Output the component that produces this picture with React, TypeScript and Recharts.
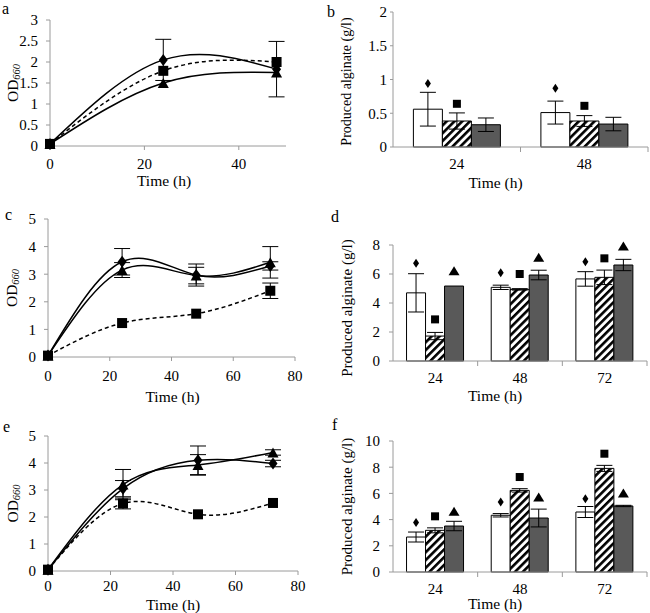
import React from 'react'
import { LineChart, Line, BarChart, Bar, XAxis, YAxis, ErrorBar, LabelList, Label } from 'recharts'

const FONT = 'Liberation Serif, Times New Roman, DejaVu Serif, serif'
const AXIS = '#9a9a9a'
const GREY = '#595959'

// ---- growth curves (OD660) ----
// a
const timeA = [0, 24, 48]
const diaA = [0.05, 2.05, 1.83]
const diaErrA = [0, 0.49, 0.66]
const triA = [0.05, 1.5, 1.75]
const triErrA = [0, 0, 0]
const sqA = [0.05, 1.79, 2.0]
const sqErrA = [0, 0, 0]
const xTicksA = [0, 20, 40]
const yTicksA = [0, 0.5, 1, 1.5, 2, 2.5, 3]

// c
const timeC = [0, 24, 48, 72]
const diaC = [0.05, 3.45, 2.97, 3.3]
const diaErrC = [0, 0.48, 0.4, 0.15]
const triC = [0.05, 3.15, 2.95, 3.43]
const triErrC = [0, 0.27, 0.3, 0.57]
const sqC = [0.05, 1.23, 1.57, 2.4]
const sqErrC = [0, 0, 0, 0.28]

// e
const timeE = [0, 24, 48, 72]
const diaE = [0.05, 3.05, 4.1, 3.98]
const diaErrE = [0, 0.3, 0.53, 0.12]
const triE = [0.05, 3.2, 3.93, 4.39]
const triErrE = [0, 0.56, 0.38, 0.1]
const sqE = [0.05, 2.5, 2.1, 2.52]
const sqErrE = [0, 0.2, 0, 0]
const xTicksCE = [0, 20, 40, 60, 80]
const yTicksCE = [0, 1, 2, 3, 4, 5]

// ---- alginate bars ----
// b
const catsB = ['24', '48']
const whiteB = [0.56, 0.51]
const whiteErrB = [0.25, 0.17]
const hatchB = [0.385, 0.385]
const hatchErrB = [0.12, 0.08]
const greyB = [0.33, 0.34]
const greyErrB = [0.1, 0.1]
const diaMarkB = [0.94, 0.87]
const sqMarkB = [0.64, 0.61]
const triMarkB = [null, null]
const yTicksB = [0, 0.5, 1, 1.5, 2]

// d
const catsD = ['24', '48', '72']
const whiteD = [4.7, 5.08, 5.66]
const whiteErrD = [1.32, 0.15, 0.5]
const hatchD = [1.72, 4.94, 5.77]
const hatchErrD = [0.25, 0.05, 0.5]
const greyD = [5.17, 5.93, 6.62]
const greyErrD = [0, 0.33, 0.39]
const diaMarkD = [6.74, 6.09, 6.85]
const sqMarkD = [2.87, 6.0, 7.08]
const triMarkD = [6.23, 7.15, 7.93]
const yTicksD = [0, 2, 4, 6, 8]

// f
const catsF = ['24', '48', '72']
const whiteF = [2.67, 4.33, 4.58]
const whiteErrF = [0.38, 0.13, 0.42]
const hatchF = [3.18, 6.23, 7.91]
const hatchErrF = [0.19, 0.13, 0.23]
const greyF = [3.51, 4.12, 5.04]
const greyErrF = [0.36, 0.68, 0.05]
const diaMarkF = [3.77, 5.34, 5.6]
const sqMarkF = [4.25, 7.25, 9.03]
const triMarkF = [4.63, 5.73, 6.03]
const yTicksF = [0, 2, 4, 6, 8, 10]

const lineRows = (t, dia, diaErr, tri, triErr, sq, sqErr) =>
  t.map((x, i) => ({ t: x, dia: dia[i], diaErr: diaErr[i], tri: tri[i], triErr: triErr[i], sq: sq[i], sqErr: sqErr[i] }))

const barRows = (cats, w, wE, h, hE, g, gE, dm, sm, tm) =>
  cats.map((c, i) => ({
    cat: c, white: w[i], whiteErr: wE[i], hatch: h[i], hatchErr: hE[i], grey: g[i], greyErr: gE[i],
    diaMark: dm[i], sqMark: sm[i], triMark: tm[i],
  }))

const diamond = (cx, cy, w, h) => (
  <polygon points={`${cx},${cy - h / 2} ${cx + w / 2},${cy} ${cx},${cy + h / 2} ${cx - w / 2},${cy}`} fill="#000" />
)
const square = (cx, cy, s) => <rect x={cx - s / 2} y={cy - s / 2} width={s} height={s} fill="#000" />
const triangle = (cx, cy, w, h) => (
  <polygon points={`${cx},${cy - h / 2} ${cx + w / 2},${cy + h / 2} ${cx - w / 2},${cy + h / 2}`} fill="#000" />
)

const dotOf = (shape) => (p) => <g key={`d-${p.index}`}>{shape(p.cx, p.cy)}</g>

const TICK_SIZE = 15
const TITLE_SIZE = 15.5
const tickStyle = { fill: '#000', fontSize: TICK_SIZE, fontFamily: FONT, style: { fontFamily: FONT } }

function LinePanel({ left, top, width, height, margin, rows, xMax, xTicks, yMax, yTicks, xTickMargin, titleDy, titleDx, labelX }) {
  return (
    <div style={{ position: 'absolute', left, top, width, height }}>
      <LineChart width={width} height={height} data={rows} margin={margin}>
        <XAxis
          dataKey="t" type="number" domain={[0, xMax]} ticks={xTicks} height={30} interval={0}
          stroke={AXIS} tickSize={4} tickMargin={xTickMargin} tick={tickStyle}
        >
          <Label content={({ viewBox }) => (
            <text x={viewBox.x + viewBox.width / 2 + titleDx} y={viewBox.y + titleDy} textAnchor="middle" style={{ fontFamily: FONT }} fontSize={TITLE_SIZE} fill="#000">Time (h)</text>
          )} />
        </XAxis>
        <YAxis
          type="number" domain={[0, yMax]} ticks={yTicks} width={margin.yw} interval={0}
          stroke={AXIS} tickSize={4} tickMargin={8} tick={tickStyle}
        >
          <Label content={({ viewBox }) => {
            const cy = viewBox.y + viewBox.height / 2
            return (
              <text x={labelX} y={cy} transform={`rotate(-90 ${labelX} ${cy})`} textAnchor="middle" dominantBaseline="central" style={{ fontFamily: FONT }} fontSize={15.5} fill="#000">
                <tspan>OD</tspan>
                <tspan fontSize={10.5} fontStyle="italic" dy={4}>660</tspan>
              </text>
            )
          }} />
        </YAxis>
        <Line dataKey="dia" type="natural" stroke="#000" strokeWidth={1.5} dot={dotOf((x, y) => diamond(x, y, 9, 12))} isAnimationActive={false}>
          <ErrorBar dataKey="diaErr" direction="y" width={8} stroke="#000" strokeWidth={1} />
        </Line>
        <Line dataKey="tri" type="natural" stroke="#000" strokeWidth={1.5} dot={dotOf((x, y) => triangle(x, y, 11, 10))} isAnimationActive={false}>
          <ErrorBar dataKey="triErr" direction="y" width={8} stroke="#000" strokeWidth={1} />
        </Line>
        <Line dataKey="sq" type="natural" stroke="#000" strokeWidth={1.5} strokeDasharray="4 3" dot={dotOf((x, y) => square(x, y, 10))} isAnimationActive={false}>
          <ErrorBar dataKey="sqErr" direction="y" width={8} stroke="#000" strokeWidth={1} />
        </Line>
      </LineChart>
    </div>
  )
}

// marker drawn above a bar, height taken from the bar's own pixel scale
const markerOf = (rows, barKey, shape) => (p) => {
  const vb = p.viewBox || p
  const m = p.value
  const row = rows[p.index]
  if (m == null || !row) return null
  const v = row[barKey]
  const bottom = vb.y + vb.height
  const cy = bottom - (m / v) * vb.height
  return <g key={`m-${barKey}-${p.index}`}>{shape(vb.x + vb.width / 2, cy)}</g>
}

function BarPanel({ left, top, width, height, margin, rows, yMax, yTicks, yTickSize, yTickMargin, labelX, labelSize, labelDy, titleDy, hatchId }) {
  const plotW = width - margin.left - margin.right - margin.yw
  const bw = plotW / rows.length
  const axisY = height - margin.bottom - 30
  const tick = (p) => (
    <g>
      <line x1={p.x + bw / 2} x2={p.x + bw / 2} y1={axisY} y2={axisY + 5} stroke={AXIS} />
      <text x={p.x} y={axisY + 22} textAnchor="middle" style={{ fontFamily: FONT }} fontSize={TICK_SIZE} fill="#000">{p.payload.value}</text>
    </g>
  )
  return (
    <div style={{ position: 'absolute', left, top, width, height }}>
      <BarChart width={width} height={height} data={rows} margin={margin} barCategoryGap="16%" barGap={0}>
        <XAxis dataKey="cat" height={30} stroke={AXIS} tickLine={false} tick={tick} interval={0}>
          <Label content={({ viewBox }) => (
            <text x={viewBox.x + viewBox.width / 2 - 25} y={axisY + titleDy} textAnchor="middle" style={{ fontFamily: FONT }} fontSize={TITLE_SIZE} fill="#000">Time (h)</text>
          )} />
        </XAxis>
        <YAxis
          type="number" domain={[0, yMax]} ticks={yTicks} width={margin.yw} interval={0}
          stroke={AXIS} tickSize={yTickSize} tickMargin={yTickMargin} tick={tickStyle}
        >
          <Label content={({ viewBox }) => {
            const cy = viewBox.y + viewBox.height / 2 + labelDy
            return (
              <text x={labelX} y={cy} transform={`rotate(-90 ${labelX} ${cy})`} textAnchor="middle" dominantBaseline="central" style={{ fontFamily: FONT }} fontSize={labelSize} fill="#000">
                Produced alginate (g/l)
              </text>
            )
          }} />
        </YAxis>
        <Bar dataKey="white" fill="#fff" stroke="#000" strokeWidth={1} isAnimationActive={false}>
          <ErrorBar dataKey="whiteErr" width={8} stroke="#000" strokeWidth={1} />
          <LabelList dataKey="diaMark" content={markerOf(rows, 'white', (x, y) => diamond(x, y, 6, 9))} />
        </Bar>
        <Bar dataKey="hatch" fill={`url(#${hatchId})`} stroke="#000" strokeWidth={1} isAnimationActive={false}>
          <ErrorBar dataKey="hatchErr" width={8} stroke="#000" strokeWidth={1} />
          <LabelList dataKey="sqMark" content={markerOf(rows, 'hatch', (x, y) => square(x, y, 8))} />
        </Bar>
        <Bar dataKey="grey" fill={GREY} stroke="#000" strokeWidth={1} isAnimationActive={false}>
          <ErrorBar dataKey="greyErr" width={8} stroke="#000" strokeWidth={1} />
          <LabelList dataKey="triMark" content={markerOf(rows, 'grey', (x, y) => triangle(x, y, 11, 9))} />
        </Bar>
      </BarChart>
    </div>
  )
}

const letters = [
  { t: 'a', x: 2, y: 14 },
  { t: 'b', x: 327, y: 17 },
  { t: 'c', x: 5, y: 220 },
  { t: 'd', x: 331, y: 222 },
  { t: 'e', x: 3, y: 432 },
  { t: 'f', x: 332, y: 430 },
]

export default function App() {
  return (
    <div style={{ position: 'absolute', left: 0, top: 0, width: 650, height: 613, background: '#fff', overflow: 'hidden', fontFamily: FONT }}>
      <svg width={0} height={0} style={{ position: 'absolute' }}>
        <defs>
          <pattern id="hatch" patternUnits="userSpaceOnUse" width={5.5} height={5.5} patternTransform="rotate(45)">
            <rect x={0} y={0} width={5.5} height={5.5} fill="#fff" />
            <rect x={0} y={0} width={2.6} height={5.5} fill="#000" />
          </pattern>
        </defs>
      </svg>

      <LinePanel left={0} top={0} width={300} height={200}
        margin={{ top: 20, right: 14, left: 0, bottom: 24, yw: 50 }}
        rows={lineRows(timeA, diaA, diaErrA, triA, triErrA, sqA, sqErrA)}
        xMax={50} xTicks={xTicksA} yMax={3} yTicks={yTicksA} xTickMargin={8} titleDy={40} titleDx={-4} labelX={12} />
      <LinePanel left={0} top={200} width={310} height={210}
        margin={{ top: 19, right: 15, left: 0, bottom: 23, yw: 48 }}
        rows={lineRows(timeC, diaC, diaErrC, triC, triErrC, sqC, sqErrC)}
        xMax={80} xTicks={xTicksCE} yMax={5} yTicks={yTicksCE} xTickMargin={9} titleDy={45} titleDx={1} labelX={11} />
      <LinePanel left={0} top={410} width={310} height={203}
        margin={{ top: 26, right: 12, left: 0, bottom: 12, yw: 48 }}
        rows={lineRows(timeE, diaE, diaErrE, triE, triErrE, sqE, sqErrE)}
        xMax={80} xTicks={xTicksCE} yMax={5} yTicks={yTicksCE} xTickMargin={5} titleDy={39} titleDx={0} labelX={12} />

      <BarPanel left={325} top={0} width={325} height={200}
        margin={{ top: 12, right: 2, left: 0, bottom: 23, yw: 68 }}
        rows={barRows(catsB, whiteB, whiteErrB, hatchB, hatchErrB, greyB, greyErrB, diaMarkB, sqMarkB, triMarkB)}
        yMax={2} yTicks={yTicksB} yTickSize={3} yTickMargin={3} labelX={21} labelSize={14} labelDy={2} titleDy={41} hatchId="hatch" />
      <BarPanel left={325} top={200} width={325} height={210}
        margin={{ top: 45, right: 3, left: 0, bottom: 19, yw: 68 }}
        rows={barRows(catsD, whiteD, whiteErrD, hatchD, hatchErrD, greyD, greyErrD, diaMarkD, sqMarkD, triMarkD)}
        yMax={8} yTicks={yTicksD} yTickSize={4} yTickMargin={9} labelX={22} labelSize={15} labelDy={5} titleDy={40} hatchId="hatch" />
      <BarPanel left={325} top={410} width={325} height={203}
        margin={{ top: 31, right: 3, left: 0, bottom: 11, yw: 68 }}
        rows={barRows(catsF, whiteF, whiteErrF, hatchF, hatchErrF, greyF, greyErrF, diaMarkF, sqMarkF, triMarkF)}
        yMax={10} yTicks={yTicksF} yTickSize={4} yTickMargin={9} labelX={22} labelSize={15} labelDy={0} titleDy={37} hatchId="hatch" />

      <svg width={650} height={613} style={{ position: 'absolute', left: 0, top: 0, pointerEvents: 'none' }}>
        {letters.map((l) => (
          <text key={l.t} x={l.x} y={l.y} style={{ fontFamily: FONT }} fontSize={16} fill="#000">{l.t}</text>
        ))}
      </svg>
    </div>
  )
}
